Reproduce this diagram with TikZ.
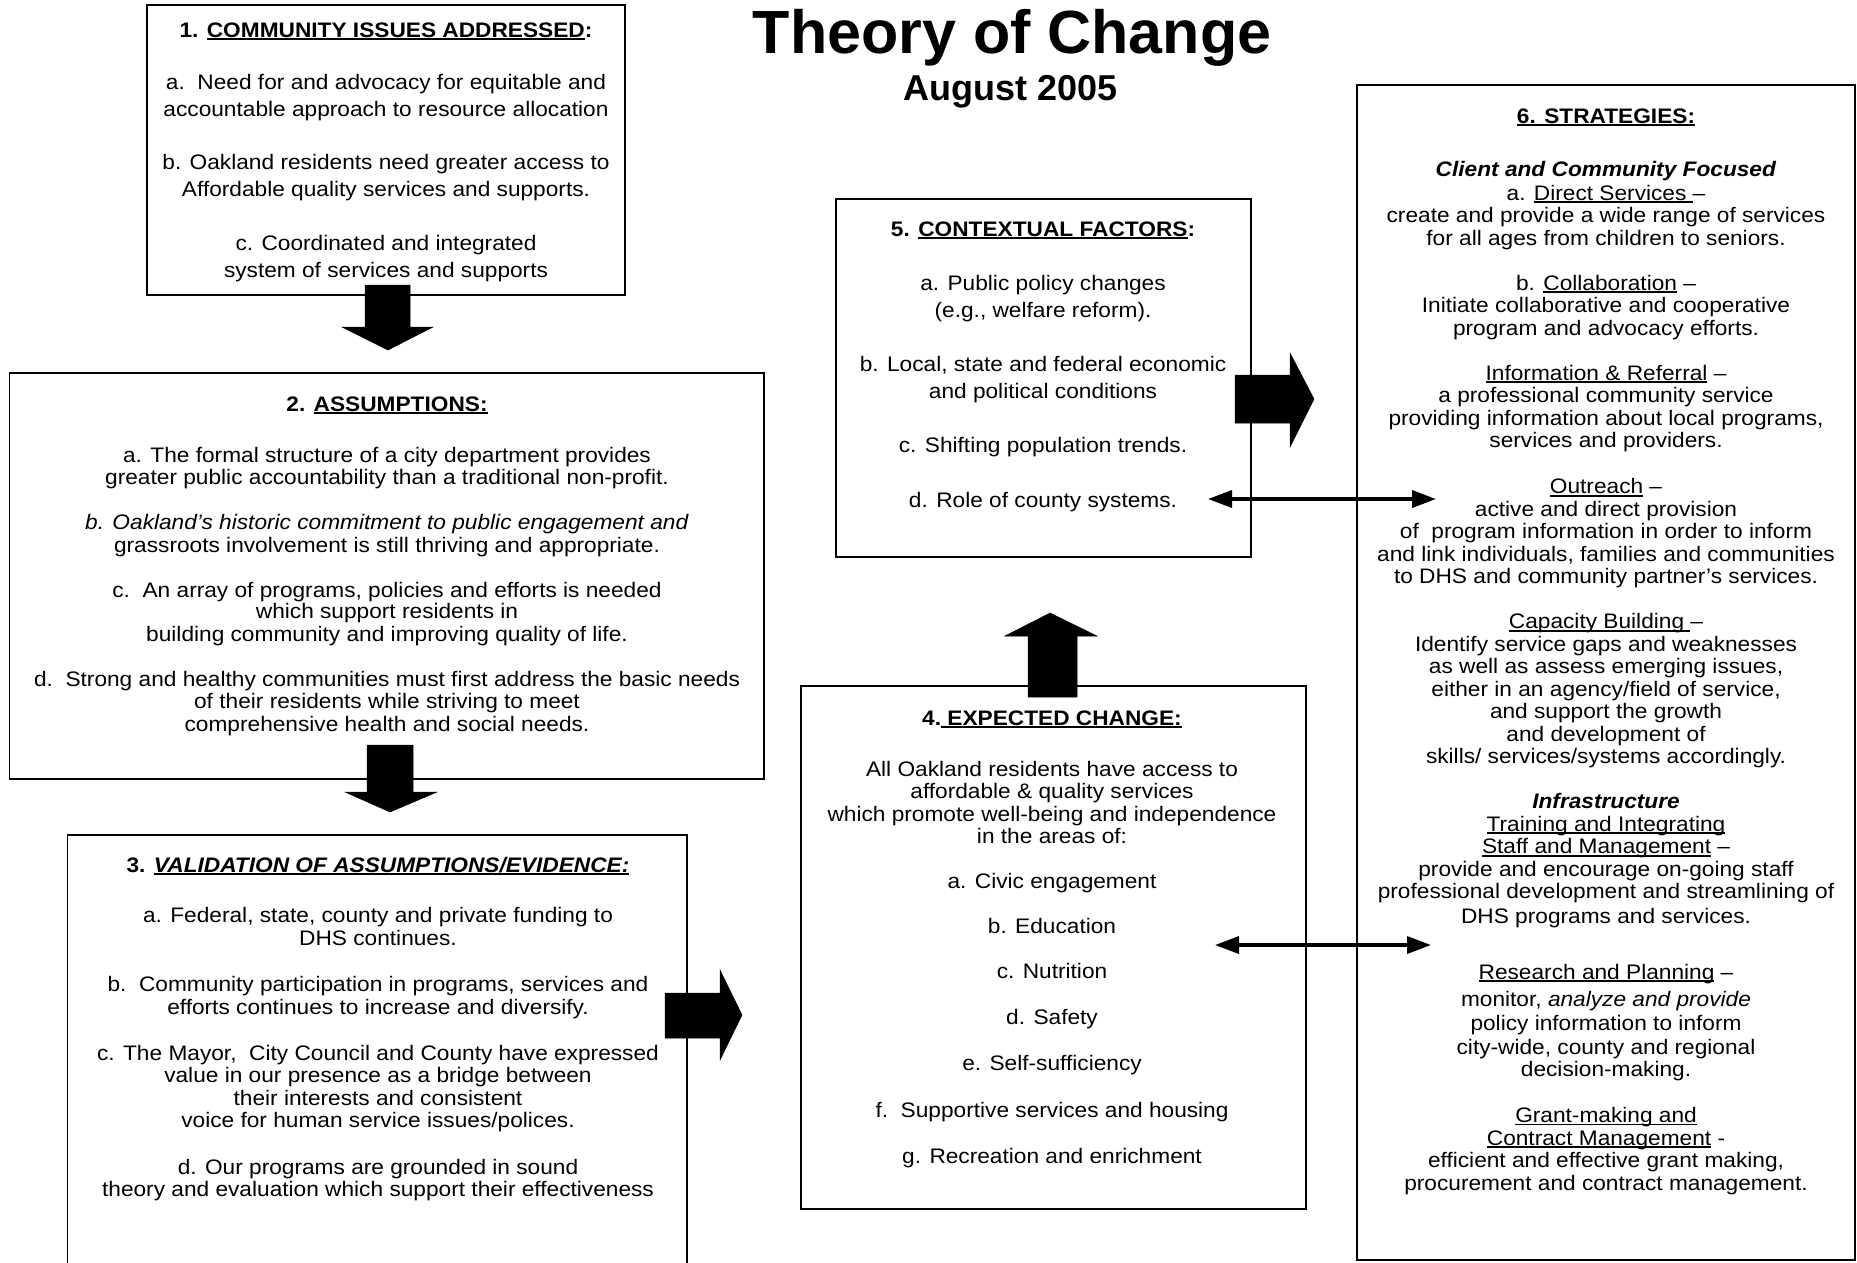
\documentclass[tikz,border=0pt]{standalone}
\usepackage{fontspec}
\setmainfont{Liberation Sans}
\newfontfamily\bodyfont[FakeStretch=1.08]{Liberation Sans}
\usetikzlibrary{arrows.meta}
\newcommand\uln[1]{\setbox0\hbox{#1}\rlap{\rule[-2.8pt]{\wd0}{1.4pt}}\box0\relax}
\tikzset{
  box/.style={draw=black, line width=1.3pt, inner sep=0pt},
  txt/.style={anchor=base, inner sep=0pt, font=\bodyfont\fontsize{21}{22}\selectfont},
  blk/.style={fill=black, draw=black, line width=0.5pt, line join=miter},
  dbl/.style={line width=3.5pt, {Triangle[length=24pt,width=17pt]}-{Triangle[length=24pt,width=17pt]}},
}
\begin{document}
\begin{tikzpicture}[x=1pt,y=-1pt]
\useasboundingbox (0,0) rectangle (1857,1262);
\clip (0,0) rectangle (1857,1262);
\fill[white] (0,0) rectangle (1857,1262);

% title
\node[anchor=base, inner sep=0pt, font=\fontsize{61}{61}\selectfont\bfseries] (title) at (1012,53) {Theory of Change};
\node[anchor=base, inner sep=0pt, font=\fontsize{36}{36}\selectfont\bfseries] (date) at (1011,100) {August 2005};

% boxes
\node[box, minimum width=478pt, minimum height=290pt] (box1) at (386,150) {};
\node[box, minimum width=754.5pt, minimum height=406pt] (box2) at (386.75,576) {};
\node[box, minimum width=619.5pt, minimum height=465pt] (box3) at (377.25,1067.5) {};
\node[box, minimum width=505pt, minimum height=523pt] (box4) at (1053.5,947.5) {};
\node[box, minimum width=415pt, minimum height=358pt] (box5) at (1043.5,378) {};
\node[box, minimum width=498pt, minimum height=1175pt] (box6) at (1606,672.5) {};

% block arrows
\fill[blk] (365,285) -- (410,285) -- (410,327) -- (433,327) -- (388,350) -- (342,327) -- (365,327) -- cycle;
\fill[blk] (367,745) -- (413,745) -- (413,792) -- (437,792) -- (390,812) -- (345,792) -- (367,792) -- cycle;
\fill[blk] (665,993) -- (720,993) -- (720,970) -- (742,1015) -- (720,1060) -- (720,1038) -- (665,1038) -- cycle;
\fill[blk] (1028,697) -- (1028,636) -- (1005,636) -- (1050,613) -- (1097,636) -- (1077,636) -- (1077,697) -- cycle;
\fill[blk] (1235,375) -- (1290,375) -- (1290,353) -- (1314,399) -- (1290,447) -- (1290,423) -- (1235,423) -- cycle;

% double arrows
\coordinate (c5) at (1208,499);
\coordinate (c6a) at (1436,499);
\coordinate (c4) at (1215,945);
\coordinate (c6b) at (1431,945);
\draw[dbl] (c5) -- (c6a);
\draw[dbl] (c4) -- (c6b);

% box 1 text
\foreach \yy/\lbl [count=\i] in {
 37/{\textbf{1. \uln{COMMUNITY ISSUES ADDRESSED}:}},
 89/{a.\ \ Need for and advocacy for equitable and},
 116/{accountable approach to resource allocation},
 169/{b. Oakland residents need greater access to},
 196/{Affordable quality services and supports.},
 250/{c. Coordinated and integrated},
 277/{system of services and supports}}
 \node[txt] (ta\i) at (386,\yy) {\lbl};

% box 2 text
\foreach \yy/\lbl [count=\i] in {
 411/{\textbf{2. \uln{ASSUMPTIONS:}}},
 462/{a. The formal structure of a city department provides},
 484/{greater public accountability than a traditional non-profit.},
 529/{\textit{b. Oakland’s historic commitment to public engagement and}},
 552/{grassroots involvement is still thriving and appropriate.},
 597/{c.\ \ An array of programs, policies and efforts is needed},
 618/{which support residents in},
 641/{building community and improving quality of life.},
 686/{d.\ \ Strong and healthy communities must first address the basic needs},
 708/{of their residents while striving to meet},
 731/{comprehensive health and social needs.}}
 \node[txt] (tb\i) at (387,\yy) {\lbl};

% box 3 text
\foreach \yy/\lbl [count=\i] in {
 872/{\textbf{3. \textit{\uln{VALIDATION OF ASSUMPTIONS/EVIDENCE:}}}},
 922/{a. Federal, state, county and private funding to},
 945/{DHS continues.},
 991/{b.\ \ Community participation in programs, services and},
 1014/{efforts continues to increase and diversify.},
 1060/{c. The Mayor,\ \ City Council and County have expressed},
 1082/{value in our presence as a bridge between},
 1105/{their interests and consistent},
 1127/{voice for human service issues/polices.},
 1174/{d. Our programs are grounded in sound},
 1196/{theory and evaluation which support their effectiveness}}
 \node[txt] (tc\i) at (378,\yy) {\lbl};

% box 4 text
\foreach \yy/\lbl [count=\i] in {
 725/{\textbf{4.\uln{ EXPECTED CHANGE:}}},
 776/{All Oakland residents have access to},
 798/{affordable \& quality services},
 821/{which promote well-being and independence},
 843/{in the areas of:},
 888/{a. Civic engagement},
 933/{b. Education},
 978/{c. Nutrition},
 1024/{d. Safety},
 1070/{e. Self-sufficiency},
 1117/{f.\ \ Supportive services and housing},
 1163/{g. Recreation and enrichment}}
 \node[txt] (td\i) at (1052,\yy) {\lbl};

% box 5 text
\foreach \yy/\lbl [count=\i] in {
 236/{\textbf{5. \uln{CONTEXTUAL FACTORS}:}},
 290/{a. Public policy changes},
 317/{(e.g., welfare reform).},
 371/{b. Local, state and federal economic},
 398/{and political conditions},
 452/{c. Shifting population trends.},
 507/{d. Role of county systems.}}
 \node[txt] (te\i) at (1043,\yy) {\lbl};

% box 6 text
\foreach \yy/\lbl [count=\i] in {
 123/{\textbf{\uln{6. STRATEGIES:}}},
 176/{\textbf{\textit{Client and Community Focused}}},
 200/{a. \uln{Direct Services }–},
 222.5/{create and provide a wide range of services},
 245/{for all ages from children to seniors.},
 290/{b. \uln{Collaboration} –},
 312.5/{Initiate collaborative and cooperative},
 335/{program and advocacy efforts.},
 380/{\uln{Information \& Referral} –},
 402.6/{a professional community service},
 425/{providing information about local programs,},
 447.6/{services and providers.},
 493.7/{\uln{Outreach} –},
 516/{active and direct provision},
 538.7/{of\ \ program information in order to inform},
 561/{and link individuals, families and communities},
 583.8/{to DHS and community partner’s services.},
 628.8/{\uln{Capacity Building }–},
 651/{Identify service gaps and weaknesses},
 673.8/{as well as assess emerging issues,},
 696/{either in an agency/field of service,},
 718.8/{and support the growth},
 741/{and development of},
 763.8/{skills/ services/systems accordingly.},
 808.8/{\textbf{\textit{Infrastructure}}},
 831/{\uln{Training and Integrating}},
 853.8/{\uln{Staff and Management} –},
 876/{provide and encourage on-going staff},
 898.8/{professional development and streamlining of},
 923.7/{DHS programs and services.},
 979/{\uln{Research and Planning} –},
 1006.5/{monitor, \textit{analyze and provide}},
 1030/{policy information to inform},
 1054/{city-wide, county and regional},
 1076/{decision-making.},
 1122.6/{\uln{Grant-making and}},
 1145/{\uln{Contract Management} -},
 1167.6/{efficient and effective grant making,},
 1190/{procurement and contract management.}}
 \node[txt] (tf\i) at (1606,\yy) {\lbl};
\end{tikzpicture}
\end{document}
